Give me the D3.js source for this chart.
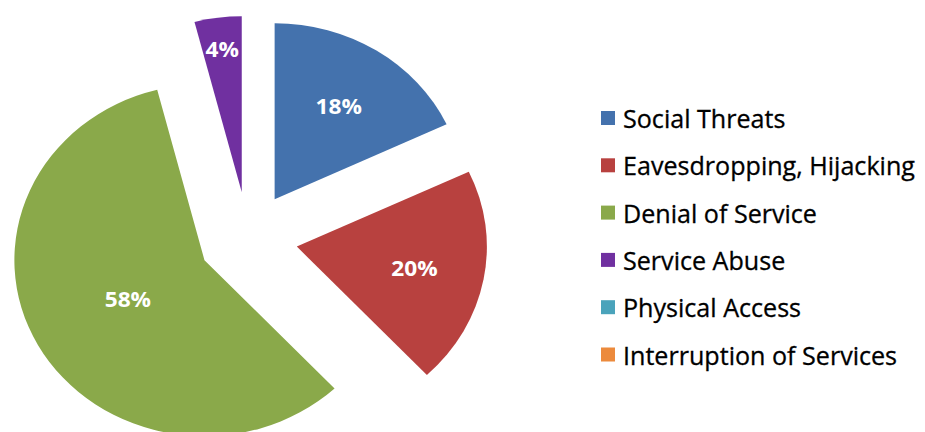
<!DOCTYPE html>
<html>
<head>
<meta charset="utf-8">
<script src="https://cdn.jsdelivr.net/npm/d3@7"></script>
<style>
  body { margin: 0; background: #fff; }
  svg { display: block; }
</style>
</head>
<body>
<div class="chart"></div>
<script>
const categories = ["Social Threats", "Eavesdropping, Hijacking", "Denial of Service",
                    "Service Abuse", "Physical Access", "Interruption of Services"]
const values = [18, 20, 58, 4, 0, 0]
const colors = ["#4472ad", "#b8413f", "#8aa94a", "#7030a0", "#4aa3bb", "#ec8a3c"]

const chart_param = {
    width: 925,
    height: 432,
    cx: 248,
    cy: 238,
    radius: 176,
    stretch: 1.08,   // the source picture is a little wider than tall
    explode: 46,
    legend: { x: 601, y: 118, step: 47.3, box: 14, gap: 8, textWidth: 292 }
}

const data = categories.map((c, i) => ({ name: c, value: values[i], color: colors[i] }))

const svg = d3.select(".chart").append("svg")
    .attr("width", chart_param.width)
    .attr("height", chart_param.height)

const pie = d3.pie().sort(null).value(d => d.value)
const arc = d3.arc().innerRadius(0).outerRadius(chart_param.radius)
const arcs = pie(data).filter(d => d.data.value > 0)

const g = svg.append("g")
    .attr("transform", `translate(${chart_param.cx},${chart_param.cy}) scale(${chart_param.stretch},1)`)

const slice = g.selectAll(".slice")
    .data(arcs).enter()
    .append("g")
    .classed("slice", true)
    .attr("transform", d => {
        const mid = (d.startAngle + d.endAngle) / 2
        return `translate(${chart_param.explode * Math.sin(mid)},${-chart_param.explode * Math.cos(mid)})`
    })

slice.append("path")
    .attr("d", arc)
    .style("fill", d => d.data.color)

// excel style label placement: small slices push out, big ones pull in
const labelFrac = v => v < 10 ? 0.82 : (v > 50 ? 0.46 : 0.63)

slice.append("text")
    .attr("x", d => {
        const mid = (d.startAngle + d.endAngle) / 2
        return labelFrac(d.data.value) * chart_param.radius * Math.sin(mid)
    })
    .attr("y", d => {
        const mid = (d.startAngle + d.endAngle) / 2
        return -labelFrac(d.data.value) * chart_param.radius * Math.cos(mid)
    })
    .attr("text-anchor", "middle")
    .attr("dominant-baseline", "central")
    .style("font-family", "'Open Sans', sans-serif")
    .style("font-weight", "bold")
    .style("font-size", "21px")
    .style("fill", "#fff")
    .text(d => d.data.value + "%")

// legend
const lp = chart_param.legend
const legend = svg.selectAll(".legend")
    .data(data).enter()
    .append("g")
    .classed("legend", true)
    .attr("transform", (d, i) => `translate(${lp.x},${lp.y + i * lp.step})`)

legend.append("rect")
    .attr("x", 0)
    .attr("y", -lp.box / 2)
    .attr("width", lp.box)
    .attr("height", lp.box)
    .style("fill", d => d.color)

const ltext = legend.append("text")
    .attr("x", lp.box + lp.gap)
    .attr("y", 0)
    .attr("dominant-baseline", "central")
    .style("font-family", "'Open Sans', sans-serif")
    .style("font-size", "20px")
    .style("fill", "#000")
    .style("stroke", "#000")
    .style("stroke-width", 0.3)
    .text(d => d.name)

// fit the longest entry to the width seen in the source
const longest = d3.max(ltext.nodes(), n => n.getComputedTextLength())
const fs = 20 * lp.textWidth / longest
ltext.style("font-size", fs + "px")
</script>
</body>
</html>
